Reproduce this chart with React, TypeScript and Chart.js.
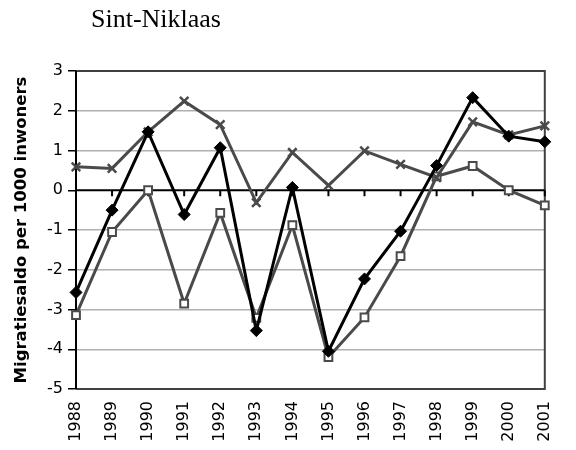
import React, { useEffect, useRef } from "react";
import { Chart, registerables } from "chart.js";

Chart.register(...registerables);

const years = ["1988","1989","1990","1991","1992","1993","1994","1995","1996","1997","1998","1999","2000","2001"];
const diamondSeries = [-2.57, -0.5, 1.47, -0.61, 1.07, -3.53, 0.07, -4.05, -2.23, -1.03, 0.62, 2.33, 1.36, 1.22];
const squareSeries = [-3.14, -1.05, 0.0, -2.85, -0.57, -3.21, -0.88, -4.2, -3.2, -1.66, 0.35, 0.61, 0.0, -0.38];
const crossSeries = [0.59, 0.55, 1.47, 2.24, 1.65, -0.31, 0.95, 0.12, 0.99, 0.65, 0.32, 1.72, 1.39, 1.62];
const yMin = -5;
const yMax = 3;
const titleText = "Sint-Niklaas";
const yTitle = "Migratiesaldo per 1000 inwoners";

const framePlugin = {
  id: "frame",
  beforeDatasetsDraw(chart: any) {
    const { ctx, chartArea, scales } = chart;
    const xs = scales.x;
    const ys = scales.y;
    ctx.save();
    ctx.strokeStyle = "#404040";
    ctx.lineWidth = 2;
    ctx.beginPath();
    ctx.moveTo(chartArea.left, chartArea.top);
    ctx.lineTo(chartArea.right, chartArea.top);
    ctx.lineTo(chartArea.right, chartArea.bottom);
    ctx.lineTo(chartArea.left, chartArea.bottom);
    ctx.stroke();
    ctx.strokeStyle = "#000";
    ctx.beginPath();
    ctx.moveTo(chartArea.left, chartArea.top);
    ctx.lineTo(chartArea.left, chartArea.bottom);
    ctx.stroke();
    const y0 = ys.getPixelForValue(0);
    ctx.beginPath();
    ctx.moveTo(chartArea.left, y0);
    ctx.lineTo(chartArea.right, y0);
    ctx.stroke();
    for (let i = 0; i < years.length; i++) {
      const x = xs.getPixelForValue(i);
      ctx.beginPath();
      ctx.moveTo(x, y0);
      ctx.lineTo(x, y0 + 6);
      ctx.stroke();
    }
    ctx.restore();
  },
};

export default function App() {
  const ref = useRef<HTMLCanvasElement | null>(null);
  useEffect(() => {
    if (!ref.current) return;
    const chart = new Chart(ref.current, {
      type: "line",
      data: {
        labels: years,
        datasets: [
          {
            label: "A",
            data: diamondSeries,
            borderColor: "#000000",
            backgroundColor: "#000000",
            borderWidth: 3,
            pointStyle: "rectRot",
            pointRadius: 6,
            pointBorderWidth: 1,
            pointBackgroundColor: "#000000",
            pointBorderColor: "#000000",
            order: 0,
          },
          {
            label: "C",
            data: crossSeries,
            borderColor: "#4a4a4a",
            backgroundColor: "#4a4a4a",
            borderWidth: 3,
            pointStyle: "crossRot",
            pointRadius: 6,
            pointBorderWidth: 2.5,
            pointBorderColor: "#4a4a4a",
            order: 1,
          },
          {
            label: "B",
            data: squareSeries,
            borderColor: "#4a4a4a",
            backgroundColor: "#ffffff",
            borderWidth: 3,
            pointStyle: "rect",
            pointRadius: 5.5,
            pointBorderWidth: 2,
            pointBackgroundColor: "#ffffff",
            pointBorderColor: "#4a4a4a",
            order: 2,
          },
        ],
      },
      options: {
        responsive: false,
        animation: false,
        layout: { padding: { top: 71, right: 13, bottom: 0, left: 0 } },
        plugins: {
          legend: { display: false },
          tooltip: { enabled: false },
          title: { display: false },
        },
        elements: { line: { tension: 0 } },
        scales: {
          x: {
            type: "category",
            offset: false,
            grid: { display: false, drawTicks: false },
            border: { display: false },
            ticks: {
              color: "#000",
              font: { family: "DejaVu Sans", size: 16 },
              minRotation: 90,
              maxRotation: 90,
              padding: 12,
              autoSkip: false,
            },
            afterFit(scale: any) {
              scale.height = 61;
            },
          },
          y: {
            min: yMin,
            max: yMax,
            border: { display: false },
            grid: {
              color: (c: any) => (c.tick && c.tick.value === 0 ? "rgba(0,0,0,0)" : "#b0b0b0"),
              lineWidth: 1.5,
              drawTicks: true,
              tickLength: 8,
              tickColor: "#000",
            },
            ticks: {
              stepSize: 1,
              color: "#000",
              font: { family: "DejaVu Sans", size: 16 },
              padding: 5,
            },
            title: {
              display: true,
              text: yTitle,
              color: "#000",
              font: { family: "DejaVu Sans", size: 16.5, weight: "bold" },
              padding: { top: 12, bottom: 0 },
            },
            afterFit(scale: any) {
              scale.width = 76;
            },
          },
        },
      },
      plugins: [framePlugin],
    } as any);
    return () => chart.destroy();
  }, []);
  return (
    <div style={{ position: "absolute", left: 0, top: 0, width: 576, height: 450 }}>
      <canvas ref={ref} width={576} height={450} style={{ display: "block" }} />
      <div
        style={{
          position: "absolute",
          left: 91,
          top: 3,
          fontFamily: "'Liberation Serif', 'Times New Roman', serif",
          fontSize: 26,
          lineHeight: "32px",
          color: "#000",
          whiteSpace: "nowrap",
        }}
      >
        {titleText}
      </div>
    </div>
  );
}
